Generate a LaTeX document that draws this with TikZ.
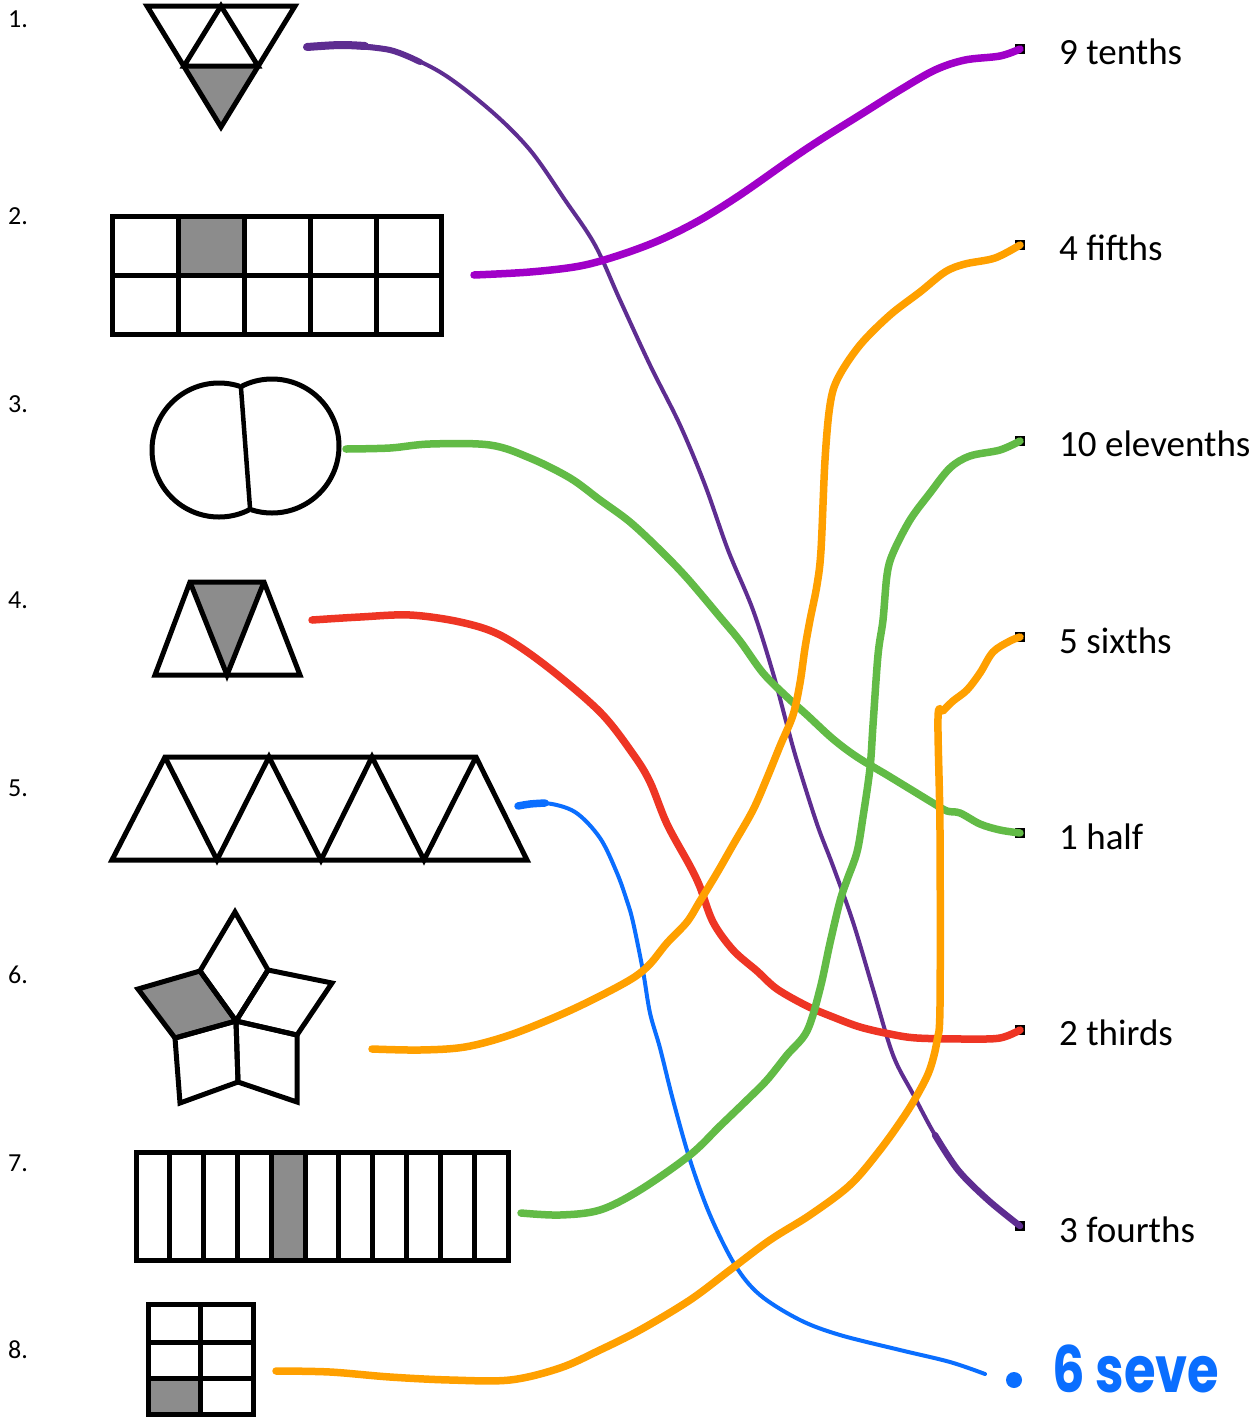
\documentclass[tikz,border=0pt]{standalone}
\usepackage{fontspec}
\setmainfont{Carlito}
\newfontfamily\handfont{Poppins}
\definecolor{cpurple}{RGB}{94,45,145}
\definecolor{cmagenta}{RGB}{160,0,200}
\definecolor{cgreen}{RGB}{98,187,70}
\definecolor{cred}{RGB}{238,53,36}
\definecolor{corange}{RGB}{255,160,0}
\definecolor{cblue}{RGB}{10,110,255}
\begin{document}
\begin{tikzpicture}[x=1pt,y=-1pt,
  shp/.style={draw=black,line width=5pt},
  shade/.style={fill=black!45},
  pen/.style={line width=7.5pt,line cap=round,line join=round},
  thinpen/.style={line width=4pt,line cap=round,line join=round},
  numlabel/.style={anchor=base west,inner sep=0pt,font=\fontsize{26}{30}\selectfont},
  fraclabel/.style={anchor=base west,inner sep=0pt,font=\fontsize{37}{40}\selectfont},
  endbox/.style={fill=black,minimum size=10pt,inner sep=0pt,outer sep=0pt}]
\useasboundingbox (0,0) rectangle (1260,1417);
\fill[white] (0,0) rectangle (1260,1417);

% ---------- item numbers ----------
\node[numlabel] (n1) at (8,27) {1.};
\node[numlabel] (n2) at (8,224) {2.};
\node[numlabel] (n3) at (8,412) {3.};
\node[numlabel] (n4) at (8,608) {4.};
\node[numlabel] (n5) at (8,796) {5.};
\node[numlabel] (n6) at (8,983) {6.};
\node[numlabel] (n7) at (8,1171) {7.};
\node[numlabel] (n8) at (8,1358) {8.};

% ---------- shape 1 ----------
\fill[shade] (184,66) -- (258,66) -- (221,127) -- cycle;
\draw[shp] (147,6) -- (295,6) -- (221,127) -- cycle;
\draw[shp] (184,66) -- (221,6) -- (258,66) -- cycle;

% ---------- shape 2 ----------
\fill[shade] (178,216) rectangle (244,275);
\draw[shp] (112,216) rectangle (441,334);
\draw[shp] (112,275) -- (441,275);
\foreach \x in {178,244,310,376} \draw[shp] (\x,216) -- (\x,334);

% ---------- shape 3 ----------
\begin{scope}
  \clip (100,300) -- (234.4,300) -- (256.9,600) -- (100,600) -- cycle;
  \draw[shp] (219,450) circle (67);
\end{scope}
\begin{scope}
  \clip (234.4,300) -- (400,300) -- (400,600) -- (256.9,600) -- cycle;
  \draw[shp] (272,446) circle (67);
\end{scope}
\draw[shp,line width=4.5pt] (240.9,386.7) -- (250.1,509.3);

% ---------- shape 4 ----------
\fill[shade] (190,582) -- (264,582) -- (227,675) -- cycle;
\draw[shp] (155,675) -- (190,582) -- (264,582) -- (300,675) -- cycle;
\draw[shp] (190,582) -- (227,675) -- (264,582);

% ---------- shape 5 ----------
\draw[shp] (112,860) -- (165,757) -- (476,757) -- (527,860) -- cycle;
\draw[shp] (165,757) -- (217,860) -- (269,757) -- (321,860) -- (372,757) -- (424,860) -- (476,757);

% ---------- shape 6 ----------
\fill[shade] (236,1021) -- (175,1038) -- (138,989) -- (200,971) -- cycle;
\draw[shp] (236,1021) -- (200,971) -- (235,912) -- (268,970) -- cycle;
\draw[shp] (236,1021) -- (175,1038) -- (138,989) -- (200,971) -- cycle;
\draw[shp] (236,1021) -- (268,970) -- (332,983) -- (297,1035) -- cycle;
\draw[shp] (236,1021) -- (238,1082) -- (180,1103) -- (175,1038) -- cycle;
\draw[shp] (236,1021) -- (297,1035) -- (297,1102) -- (238,1082) -- cycle;

% ---------- shape 7 ----------
\fill[shade] (271.3,1152) rectangle (305.1,1260);
\draw[shp] (136,1152) rectangle (508,1260);
\foreach \k in {1,...,10} \draw[shp] ({136+33.818*\k},1152) -- ({136+33.818*\k},1260);

% ---------- shape 8 ----------
\fill[shade] (148,1378) rectangle (200,1414);
\draw[shp] (148,1304) rectangle (253,1414);
\draw[shp] (148,1342) -- (253,1342);
\draw[shp] (148,1378) -- (253,1378);
\draw[shp] (200,1304) -- (200,1414);

% ---------- answer boxes and labels ----------
\node[endbox] (q1) at (1020,49) {};
\node[endbox] (q2) at (1020,245) {};
\node[endbox] (q3) at (1020,441) {};
\node[endbox] (q4) at (1020,637) {};
\node[endbox] (q5) at (1020,833) {};
\node[endbox] (q6) at (1020,1030) {};
\node[endbox] (q7) at (1020,1226) {};
\node[fraclabel] (t1) at (1059,64) {9 tenths};
\node[fraclabel] (t2) at (1059,260) {4 fifths};
\node[fraclabel] (t3) at (1059,456) {10 elevenths};
\node[fraclabel] (t4) at (1059,653) {5 sixths};
\node[fraclabel] (t5) at (1059,849) {1 half};
\node[fraclabel] (t6) at (1059,1045) {2 thirds};
\node[fraclabel] (t7) at (1059,1242) {3 fourths};

% ---------- connector start points ----------
\coordinate (s1) at (307,47);
\coordinate (s2) at (474,275);
\coordinate (s3) at (346,449);
\coordinate (s4) at (312,620);
\coordinate (s5) at (518,806);
\coordinate (s6) at (372,1049);
\coordinate (s7) at (521,1213);
\coordinate (s8) at (276,1371);
\coordinate (e5) at (985,1374);

% ---------- connectors ----------
% 1 -> 3 fourths (purple)
\draw[thinpen,cpurple] plot[smooth,tension=0.55] coordinates {(s1) (345,45) (390,50) (440,72) (490,110) (530,150) (565,200) (595,245) (620,300) (650,365) (680,425) (705,485) (728,550) (753,610) (773,673) (787,725) (797,761) (817,824) (833,866) (853,922) (873,989) (893,1055) (913,1094) (935,1135) (958,1170) (988,1200) (q7.center)};
\draw[pen,cpurple,line width=8pt] plot[smooth,tension=0.55] coordinates {(s1) (340,45) (365,46)};
\draw[pen,cpurple,line width=6pt] plot[smooth,tension=0.55] coordinates {(345,45) (390,50) (420,62)};
\draw[pen,cpurple,line width=6.5pt] plot[smooth,tension=0.55] coordinates {(935,1135) (958,1170) (988,1200) (q7.center)};
% 2 -> 9 tenths (magenta)
\draw[pen,cmagenta] plot[smooth,tension=0.55] coordinates {(s2) (530,272) (580,266) (620,255) (660,240) (700,220) (740,195) (790,160) (820,140) (860,115) (900,90) (935,70) (965,60) (1000,56) (q1.center)};
% 3 -> 1 half (green)
\draw[pen,cgreen] plot[smooth,tension=0.55] coordinates {(s3) (390,448) (430,444) (490,445) (530,458) (570,478) (600,500) (630,522) (660,550) (687,578) (720,617) (740,641) (763,673) (787,697) (807,715) (833,739) (857,757) (887,775) (910,789) (933,803) (947,811) (960,813) (980,824) (1000,830) (q5.center)};
% 4 -> 2 thirds (red)
\draw[pen,cred] plot[smooth,tension=0.55] coordinates {(s4) (360,617) (410,615) (460,622) (500,635) (545,665) (600,712) (633,754) (650,782) (667,824) (690,866) (700,887) (713,922) (733,950) (757,971) (777,989) (807,1006) (833,1017) (860,1027) (890,1034) (917,1038) (967,1039) (1000,1038) (q6.center)};
% 5 -> 6 sevenths (blue)
\draw[thinpen,cblue] plot[smooth,tension=0.55] coordinates {(s5) (545,803) (575,812) (600,838) (617,873) (627,901) (633,922) (643,971) (650,1013) (660,1048) (673,1100) (690,1160) (710,1215) (735,1265) (760,1295) (800,1320) (840,1335) (900,1350) (950,1362) (e5)};
\draw[pen,cblue] plot[smooth,tension=0.55] coordinates {(s5) (530,804) (545,803)};
% 6 -> 4 fifths (orange)
\draw[pen,corange] plot[smooth,tension=0.55] coordinates {(s6) (420,1050) (465,1047) (510,1035) (560,1015) (600,996) (633,978) (650,964) (667,943) (687,922) (700,901) (717,873) (733,845) (753,810) (767,778) (780,746) (793,715) (800,683) (805,648) (810,620) (817,585) (821,550) (825,460) (830,405) (838,378) (860,345) (890,315) (920,292) (945,272) (965,264) (995,258) (q2.center)};
% 7 -> 10 elevenths (green)
\draw[pen,cgreen] plot[smooth,tension=0.55] coordinates {(s7) (560,1215) (600,1210) (640,1190) (690,1155) (720,1126) (747,1100) (767,1080) (787,1055) (807,1031) (820,989) (830,943) (840,901) (847,880) (857,852) (863,817) (870,768) (873,725) (878,655) (883,620) (887,575) (893,553) (910,520) (930,493) (950,468) (970,456) (1000,450) (q3.center)};
% 8 -> 5 sixths (orange)
\draw[pen,corange] plot[smooth,tension=0.55] coordinates {(s8) (330,1372) (390,1377) (450,1380) (510,1380) (560,1368) (600,1350) (640,1330) (690,1300) (730,1270) (770,1240) (810,1215) (850,1185) (880,1150) (905,1115) (920,1090) (930,1069) (937,1041) (940,1006) (940,831) (938,718) (943,711) (953,701) (967,690) (980,673) (993,652) (1010,641) (q4.center)};

% ---------- handwritten answer ----------
\node[circle,fill=cblue,minimum size=16pt,inner sep=0pt] (dot) at (1014,1380) {};
\node[anchor=base west,inner sep=0pt,text=cblue,font=\handfont\bfseries\fontsize{64}{68}\selectfont] (hw) at (1052,1392) {\scalebox{0.8}[1]{6 seve}};
\end{tikzpicture}
\end{document}
